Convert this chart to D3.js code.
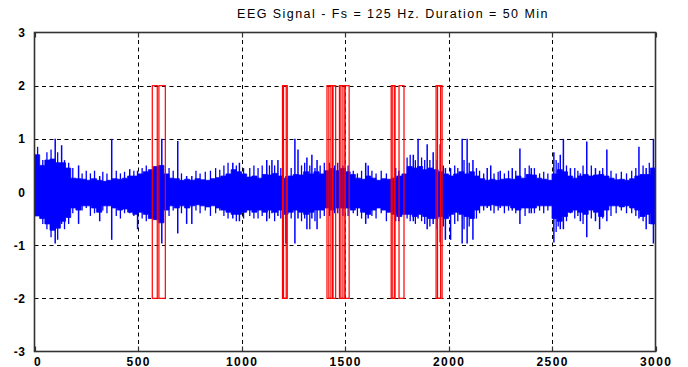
<!DOCTYPE html>
<html>
<head>
<meta charset="utf-8">
<script src="https://cdn.jsdelivr.net/npm/d3@7/dist/d3.min.js"></script>
<style>
  html, body { margin: 0; padding: 0; background: #fff; }
  svg { display: block; }
  text { font-family: Arial, "Liberation Sans", sans-serif; fill: #000; }
</style>
</head>
<body>
<div id="chart"></div>
<script>
// ---- data ----------------------------------------------------------
const title = "EEG Signal - Fs = 125 Hz. Duration = 50 Min";
const xTicks = [0, 500, 1000, 1500, 2000, 2500, 3000];
const yTicks = [-3, -2, -1, 0, 1, 2, 3];

// signal envelope, one value per 25 s block (seconds 0 .. 3000)
const blockSeconds = 25;
const envUpper = [
  0.70, 0.50, 0.60, 0.62, 0.55, 0.55, 0.45, 0.26, 0.25, 0.24,
  0.22, 0.25, 0.22, 0.20, 0.22, 0.25, 0.24, 0.26, 0.30, 0.30,
  0.34, 0.38, 0.42, 0.48, 0.50, 0.34, 0.26, 0.25, 0.22, 0.24,
  0.22, 0.25, 0.23, 0.22, 0.25, 0.27, 0.30, 0.34, 0.42, 0.38,
  0.34, 0.28, 0.30, 0.26, 0.33, 0.32, 0.35, 0.30, 0.26, 0.30,
  0.33, 0.32, 0.38, 0.34, 0.38, 0.34, 0.40, 0.44, 0.40, 0.44,
  0.38, 0.33, 0.26, 0.24, 0.30, 0.26, 0.22, 0.25, 0.24, 0.26,
  0.30, 0.34, 0.48, 0.45, 0.48, 0.42, 0.45, 0.42, 0.38, 0.34,
  0.30, 0.34, 0.38, 0.34, 0.38, 0.30, 0.25, 0.22, 0.24, 0.22,
  0.24, 0.25, 0.24, 0.30, 0.26, 0.33, 0.32, 0.26, 0.24, 0.22,
  0.34, 0.42, 0.38, 0.30, 0.26, 0.30, 0.33, 0.30, 0.32, 0.33,
  0.30, 0.26, 0.23, 0.24, 0.22, 0.25, 0.30, 0.33, 0.33, 0.45
];
const envLower = [
  -0.45, -0.50, -0.60, -0.72, -0.68, -0.55, -0.48, -0.30, -0.34, -0.26,
  -0.26, -0.30, -0.38, -0.26, -0.26, -0.30, -0.34, -0.32, -0.38, -0.42,
  -0.38, -0.42, -0.50, -0.52, -0.58, -0.34, -0.26, -0.30, -0.26, -0.30,
  -0.26, -0.24, -0.26, -0.28, -0.26, -0.30, -0.34, -0.38, -0.42, -0.42,
  -0.38, -0.34, -0.38, -0.34, -0.38, -0.34, -0.38, -0.34, -0.42, -0.38,
  -0.34, -0.38, -0.42, -0.38, -0.34, -0.34, -0.30, -0.34, -0.30, -0.30,
  -0.30, -0.34, -0.30, -0.38, -0.42, -0.34, -0.30, -0.34, -0.38, -0.42,
  -0.46, -0.42, -0.42, -0.46, -0.42, -0.46, -0.50, -0.50, -0.46, -0.50,
  -0.42, -0.38, -0.42, -0.46, -0.50, -0.34, -0.26, -0.26, -0.24, -0.26,
  -0.26, -0.26, -0.30, -0.34, -0.30, -0.30, -0.30, -0.26, -0.26, -0.26,
  -0.50, -0.55, -0.46, -0.38, -0.34, -0.38, -0.42, -0.34, -0.38, -0.46,
  -0.34, -0.26, -0.26, -0.28, -0.26, -0.30, -0.34, -0.46, -0.42, -0.60
];

// large transients: time (s), positive peak, negative peak
const spikeTime = [100, 131, 213, 315, 373, 460, 498, 615, 692, 735,
  760, 958, 990, 1122, 1147, 1176, 1215, 1258, 1273, 1316,
  1340, 1365, 1600, 1612, 1760, 1830, 1853, 1897, 1926, 1960,
  1985, 2010, 2066, 2090, 2118, 2187, 2204, 2250, 2308, 2345,
  2400, 2509, 2540, 2555, 2589, 2637, 2668, 2710, 2730, 2765,
  2920, 2955, 2990];
const spikeHigh = [1.0, 0.88, 0.5, 0.3, 1.0, 0.43, 0.4, 1.0, 0.96, 0.3,
  0.3, 0.55, 0.55, 0.6, 0.6, 0.6, 0.3, 1.0, 0.8, 0.65,
  0.7, 0.6, 0.55, 0.5, 0.4, 0.7, 1.0, 0.9, 0.75, 0.9,
  0.45, 0.45, 1.0, 1.0, 0.6, 0.45, 0.5, 0.4, 0.45, 0.82,
  0.45, 0.75, 0.7, 1.0, 0.45, 0.35, 0.95, 0.45, 0.4, 0.8,
  0.85, 0.45, 1.0];
const spikeLow = [-0.97, -0.6, -0.6, -0.55, -0.9, -0.4, -0.7, -0.97, -0.78, -0.6,
  -0.6, -0.5, -0.55, -0.55, -0.4, -0.45, -0.97, -0.97, -0.5, -0.7,
  -0.5, -0.7, -0.6, -0.5, -0.55, -0.55, -0.5, -0.7, -0.6, -0.95,
  -0.9, -0.9, -0.97, -0.97, -0.9, -0.3, -0.35, -0.3, -0.35, -0.6,
  -0.4, -0.95, -0.7, -0.7, -0.4, -0.55, -0.85, -0.55, -0.7, -0.55,
  -0.5, -0.7, -0.97];

// smaller bursts riding on the background activity
const burstTime = [15, 40, 60, 80, 112, 145, 165, 185,
  230, 250, 270, 290, 330, 350, 395, 415, 435, 480, 520, 540,
  650, 670, 710, 780, 800, 825, 850, 875, 895,
  915, 935, 975, 1010, 1040, 1060, 1080, 1100, 1135, 1160, 1190,
  1240, 1290, 1305, 1330, 1355, 1380, 1400,
  1425, 1450, 1465, 1490, 1515,
  1540, 1560, 1580, 1630, 1650, 1675, 1700,
  1745, 1800, 1815, 1840, 1870, 1885, 1910, 1945, 1975,
  2030, 2045, 2075, 2100, 2135, 2150,
  2170, 2220, 2240, 2270, 2290, 2325, 2370, 2390, 2415, 2440, 2460, 2480,
  2520, 2530, 2570, 2610, 2625, 2650, 2690, 2745, 2785, 2810, 2835, 2860, 2885, 2905, 2940, 2970];
const burstHigh = [0.85, 0.6, 0.75, 0.8, 0.75, 0.6, 0.55, 0.45,
  0.35, 0.4, 0.35, 0.4, 0.38, 0.35, 0.4, 0.35, 0.38, 0.4, 0.45, 0.5,
  0.45, 0.4, 0.35, 0.4, 0.35, 0.38, 0.4, 0.45, 0.42,
  0.5, 0.55, 0.5, 0.45, 0.45, 0.5, 0.45, 0.5, 0.5, 0.5, 0.45,
  0.45, 0.5, 0.55, 0.5, 0.45, 0.5, 0.55,
  0.55, 0.5, 0.55, 0.5, 0.5,
  0.4, 0.35, 0.4, 0.4, 0.35, 0.4, 0.35,
  0.45, 0.65, 0.7, 0.6, 0.65, 0.6, 0.6, 0.6, 0.5,
  0.5, 0.45, 0.6, 0.55, 0.45, 0.4,
  0.35, 0.35, 0.38, 0.35, 0.4, 0.4, 0.45, 0.5, 0.45, 0.35, 0.38, 0.35,
  0.6, 0.55, 0.5, 0.45, 0.4, 0.5, 0.5, 0.45, 0.4, 0.35, 0.38, 0.35, 0.4, 0.45, 0.5, 0.55];
const burstLow = [-0.45, -0.6, -0.7, -0.85, -0.9, -0.7, -0.6, -0.4,
  -0.35, -0.3, -0.45, -0.4, -0.35, -0.4, -0.45, -0.5, -0.4, -0.45, -0.5, -0.55,
  -0.45, -0.35, -0.4, -0.35, -0.4, -0.35, -0.45, -0.4, -0.35,
  -0.45, -0.5, -0.55, -0.5, -0.45, -0.5, -0.5, -0.45, -0.5, -0.55, -0.5,
  -0.5, -0.55, -0.5, -0.7, -0.55, -0.5, -0.45,
  -0.45, -0.4, -0.4, -0.45, -0.45,
  -0.4, -0.45, -0.5, -0.45, -0.5, -0.4, -0.55,
  -0.55, -0.5, -0.55, -0.6, -0.55, -0.6, -0.65, -0.7, -0.65,
  -0.6, -0.55, -0.7, -0.65, -0.5, -0.4,
  -0.35, -0.4, -0.35, -0.4, -0.35, -0.4, -0.45, -0.4, -0.4, -0.35, -0.4, -0.35,
  -0.75, -0.65, -0.55, -0.5, -0.45, -0.6, -0.5, -0.5, -0.45, -0.4, -0.35, -0.4, -0.4, -0.45, -0.55, -0.6];

// detected event windows (s), marked at +/- markerLevel
const markerLevel = 2;
const eventStart = [569, 601, 1198, 1203, 1413, 1422, 1440, 1473, 1480, 1500,
  1723, 1728, 1761, 1940, 1947];
const eventEnd   = [593, 632, 1216, 1221, 1432, 1442, 1455, 1490, 1500, 1520,
  1738, 1742, 1785, 1962, 1969];

// ---- layout --------------------------------------------------------
const W = 688, H = 367;
const margin = { top: 32.5, right: 32.5, bottom: 15.5, left: 34.5 };
const innerW = W - margin.left - margin.right;
const innerH = H - margin.top - margin.bottom;

const svg = d3.select("#chart").append("svg")
  .attr("width", W).attr("height", H);

const x = d3.scaleLinear().domain([0, 3000]).range([margin.left, margin.left + innerW]);
const y = d3.scaleLinear().domain([-3, 3]).range([margin.top + innerH, margin.top]);
const px = v => Math.round(v) + 0.5;   // pixel-aligned hairlines

// title
svg.append("text")
  .attr("x", 393)
  .attr("y", 18)
  .attr("text-anchor", "middle")
  .style("font-size", "12.5px")
  .style("letter-spacing", "1.45px")
  .text(title);

// grid
const grid = svg.append("g").attr("stroke", "#000").attr("stroke-width", 1)
  .attr("stroke-dasharray", "4,3.5");
grid.selectAll("line.gx").data(xTicks.slice(1, -1)).join("line")
  .attr("x1", d => px(x(d))).attr("x2", d => px(x(d)))
  .attr("y1", y(3)).attr("y2", y(-3));
grid.selectAll("line.gy").data(yTicks.slice(1, -1)).join("line")
  .attr("y1", d => px(y(d))).attr("y2", d => px(y(d)))
  .attr("x1", x(0)).attr("x2", x(3000));

// background activity envelope
const blocks = envUpper.map((u, i) => ({ t: i * blockSeconds, hi: u, lo: envLower[i] }));
blocks.push({ t: blocks.length * blockSeconds, hi: envUpper[envUpper.length - 1], lo: envLower[envLower.length - 1] });
const area = d3.area()
  .curve(d3.curveStepAfter)
  .x(d => x(d.t))
  .y0(d => y(d.lo))
  .y1(d => y(d.hi));
svg.append("path").datum(blocks)
  .attr("d", area)
  .attr("fill", "#0000ff")
  .attr("stroke", "#0000ff")
  .attr("stroke-width", 0.8);

// smaller bursts
svg.append("g").attr("stroke", "#0000ff").attr("stroke-width", 1.3)
  .selectAll("line").data(burstTime).join("line")
  .attr("x1", d => x(d)).attr("x2", d => x(d))
  .attr("y1", (d, i) => y(burstHigh[i]))
  .attr("y2", (d, i) => y(burstLow[i]));

// large transients
svg.append("g").attr("stroke", "#0000ff").attr("stroke-width", 1.5)
  .selectAll("line").data(spikeTime).join("line")
  .attr("x1", d => x(d)).attr("x2", d => x(d))
  .attr("y1", (d, i) => y(spikeHigh[i]))
  .attr("y2", (d, i) => y(spikeLow[i]));

// event markers
svg.append("g").attr("fill", "none").attr("stroke", "#ff0000").attr("stroke-width", 1.2)
  .selectAll("rect").data(eventStart).join("rect")
  .attr("x", d => x(d))
  .attr("width", (d, i) => x(eventEnd[i]) - x(d))
  .attr("y", y(markerLevel))
  .attr("height", y(-markerLevel) - y(markerLevel));

// frame and ticks
const frame = svg.append("g").attr("stroke", "#333").attr("fill", "none");
frame.append("rect")
  .attr("x", x(0)).attr("y", y(3))
  .attr("width", x(3000) - x(0)).attr("height", y(-3) - y(3))
  .attr("stroke-width", 1.6);
frame.selectAll("line.tt").data(xTicks).join("line")
  .attr("x1", d => px(x(d))).attr("x2", d => px(x(d)))
  .attr("y1", y(3)).attr("y2", y(3) + 5).attr("stroke-width", 1.2);
frame.selectAll("line.tb").data(xTicks).join("line").attr("class", "tb")
  .attr("x1", d => px(x(d))).attr("x2", d => px(x(d)))
  .attr("y1", y(-3)).attr("y2", y(-3) - 5).attr("stroke-width", 1.2);

// tick labels
svg.append("g").selectAll("text").data(xTicks).join("text")
  .attr("x", d => x(d) + (d === 0 ? 3.5 : 0.7))
  .attr("y", H - 1.5)
  .attr("text-anchor", "middle")
  .style("font-size", "12px").style("font-weight", "bold").style("letter-spacing", "1.4px")
  .text(d => d);
svg.append("g").selectAll("text").data(yTicks).join("text")
  .attr("x", margin.left - 9)
  .attr("y", d => y(d) + 4.5)
  .attr("text-anchor", "end")
  .style("font-size", "12px").style("font-weight", "bold").style("letter-spacing", "0.6px")
  .text(d => d);
</script>
</body>
</html>
